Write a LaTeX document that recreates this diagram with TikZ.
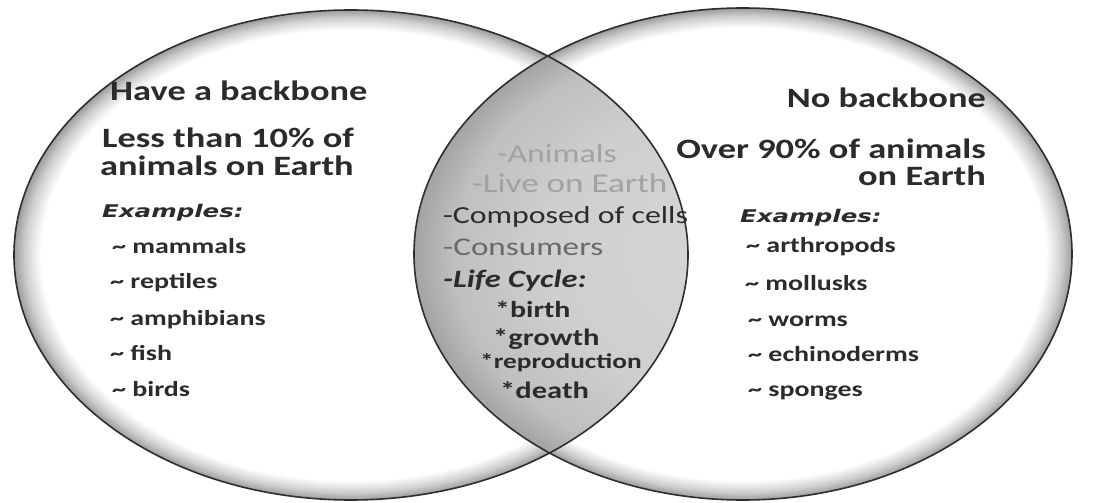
\documentclass[tikz,border=0pt]{standalone}
\usepackage{fontspec}
\newfontfamily\calf{Carlito}[FakeStretch=1.3]
\newfontfamily\exf{DejaVu Sans}[FakeStretch=1.4]
\definecolor{ink}{HTML}{2B2B2B}
\definecolor{lightink}{HTML}{A2A2A2}
\definecolor{midink}{HTML}{6A6A6A}
\definecolor{rim}{HTML}{9C9C9C}
\definecolor{edge}{HTML}{2E2E2E}
\pgfdeclareradialshading{rimshade}{\pgfpoint{0bp}{0bp}}{color(0bp)=(white); color(23.0bp)=(white); color(24.2bp)=(rim!50!white); color(25bp)=(rim); color(50bp)=(rim)}
\pgfdeclareradialshading{lensshade}{\pgfpoint{0bp}{0bp}}{color(0bp)=(black!16); color(15bp)=(black!19); color(22bp)=(black!25); color(25bp)=(black!36); color(50bp)=(black!36)}
\tikzset{
  txt/.style={inner sep=0pt, anchor=base west, text=ink},
  rtxt/.style={txt, anchor=base east},
  fs/.style={font=\calf\fontsize{#1}{#1}\selectfont},
  bfs/.style={font=\calf\bfseries\fontsize{#1}{#1}\selectfont},
  bifs/.style={font=\calf\bfseries\itshape\fontsize{#1}{#1}\selectfont},
  exs/.style={font=\exf\bfseries\itshape\fontsize{17.5}{18}\selectfont},
  outline/.style={draw=edge, line width=1.6pt},
}
\begin{document}
\begin{tikzpicture}[x=1pt,y=-1pt]
\useasboundingbox[fill=white] (0,0) rectangle (1108,503);
% circles
\path[shading=rimshade] (351,255) ellipse [x radius=337pt, y radius=245pt];
\path[shading=rimshade] (743,254) ellipse [x radius=329pt, y radius=246pt];
\begin{scope}
  \clip (351,255) ellipse [x radius=337pt, y radius=245pt];
  \path[shading=lensshade] (743,254) ellipse [x radius=329pt, y radius=246pt];
\end{scope}
\draw[outline] (351,255) ellipse [x radius=337pt, y radius=245pt];
\draw[outline] (743,254) ellipse [x radius=329pt, y radius=246pt];

% left texts
\node[txt, bfs=28] (lh) at (110,100) {Have a backbone};
\node[txt, bfs=28] (lp1) at (102,147) {Less than 10\% of};
\node[txt, bfs=28] (lp2) at (100,175) {animals on Earth};
\node[txt, exs] (lex) at (102,217) {Examples:};
\node[txt, bfs=21.5] (l1) at (112,253) {\textasciitilde{} mammals};
\node[txt, bfs=21.5] (l2) at (110,288) {\textasciitilde{} reptiles};
\node[txt, bfs=21.5] (l3) at (110,325) {\textasciitilde{} amphibians};
\node[txt, bfs=21.5] (l4) at (110,360) {\textasciitilde{} fish};
\node[txt, bfs=21.5] (l5) at (112,396) {\textasciitilde{} birds};

% right texts
\node[rtxt, bfs=28] (rh) at (986,107) {No backbone};
\node[rtxt, bfs=28] (rp1) at (986,158) {Over 90\% of animals};
\node[rtxt, bfs=28] (rp2) at (986,185) {on Earth};
\node[txt, exs] (rex) at (740,222) {Examples:};
\node[txt, bfs=21.5] (r1) at (746,252) {\textasciitilde{} arthropods};
\node[txt, bfs=21.5] (r2) at (745,290) {\textasciitilde{} mollusks};
\node[txt, bfs=21.5] (r3) at (748,326) {\textasciitilde{} worms};
\node[txt, bfs=21.5] (r4) at (748,361) {\textasciitilde{} echinoderms};
\node[txt, bfs=21.5] (r5) at (748,396) {\textasciitilde{} sponges};

% middle texts
\node[txt, fs=26, text=lightink] (m1) at (497,162) {-Animals};
\node[txt, fs=27, text=lightink] (m2) at (472,192) {-Live on Earth};
\node[txt, fs=24.5] (m3) at (443,223) {-Composed of cells};
\node[txt, fs=25.5, text=midink] (m4) at (443,255) {-Consumers};
\node[txt, bifs=25] (m5) at (443,287) {-Life Cycle:};
\node[txt, bfs=23] (m6) at (495,317) {*birth};
\node[txt, bfs=23.5] (m7) at (493,345) {*growth};
\node[txt, bfs=21] (m8) at (480,368) {*reproduction};
\node[txt, bfs=23.5] (m9) at (500,398) {*death};
\end{tikzpicture}
\end{document}
